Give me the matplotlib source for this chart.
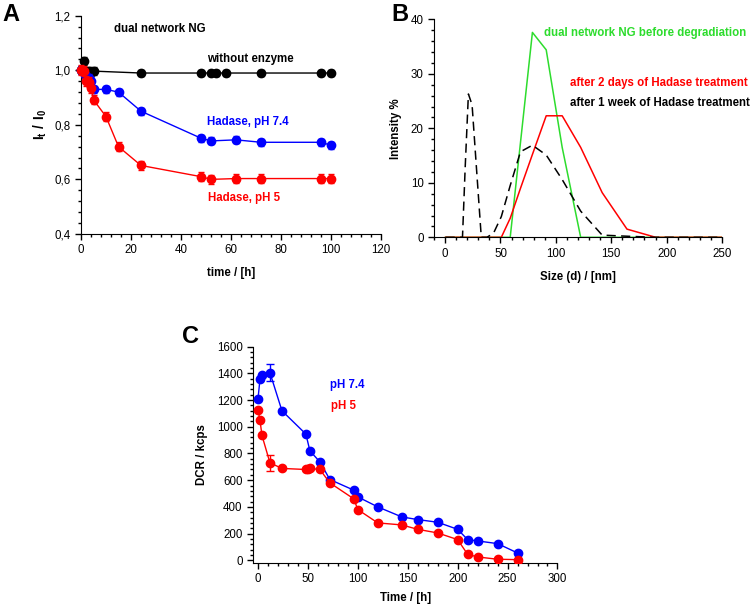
import matplotlib
matplotlib.use('Agg')
import matplotlib.pyplot as plt
from matplotlib.ticker import MultipleLocator, FuncFormatter

plt.rcParams['font.family'] = ['Liberation Sans', 'DejaVu Sans']
plt.rcParams['mathtext.fontset'] = 'custom'
plt.rcParams['mathtext.rm'] = 'Liberation Sans'
plt.rcParams['mathtext.bf'] = 'Liberation Sans:bold'

# panel A - relative intensity vs time
t_ctrl = [0, 1, 3, 4, 5, 24, 48, 52, 54, 58, 72, 96, 100]
i_ctrl = [1.0, 1.035, 0.997, 0.995, 0.997, 0.99, 0.99, 0.99, 0.99, 0.99, 0.99, 0.99, 0.99]
e_ctrl = [0.015, 0.015, 0.015, 0.015, 0.015, 0.012, 0.012, 0.012, 0.012, 0.012, 0.012, 0.012, 0.012]

t_74 = [0, 1, 2, 3, 4, 5, 10, 15, 24, 48, 52, 62, 72, 96, 100]
i_74 = [1.0, 0.99, 0.98, 0.97, 0.96, 0.93, 0.93, 0.92, 0.85, 0.751, 0.741, 0.745, 0.736, 0.736, 0.725]
e_74 = [0.015, 0.015, 0.015, 0.015, 0.015, 0.013, 0.013, 0.013, 0.013, 0.013, 0.013, 0.013, 0.013, 0.013, 0.013]

t_5 = [0, 1, 2, 3, 4, 5, 10, 15, 24, 48, 52, 62, 72, 96, 100]
i_5 = [1.0, 0.998, 0.961, 0.958, 0.935, 0.892, 0.83, 0.72, 0.651, 0.61, 0.60, 0.603, 0.603, 0.603, 0.603]
e_5 = [0.018, 0.018, 0.018, 0.018, 0.018, 0.017, 0.017, 0.017, 0.017, 0.017, 0.017, 0.017, 0.017, 0.017, 0.017]

# panel B - DLS size distributions
sizes = [0.4, 5.6, 10.1, 13.54, 15.69, 18.17, 21.04, 24.36, 28.21, 32.67, 37.84, 43.82,
         50.75, 58.77, 68.06, 78.82, 91.28, 105.7, 122.4, 141.8, 164.2, 190.1, 220.2, 255.0]
int_before = [0, 0, 0, 0, 0, 0, 0, 0, 0, 0, 0, 0,
              0, 0, 17.4, 37.6, 34.4, 16.5, 0, 0, 0, 0, 0, 0]
int_2days = [0, 0, 0, 0, 0, 0, 0, 0, 0, 0, 0, 0,
             0, 3.5, 9.0, 15.2, 22.3, 22.3, 16.5, 8.2, 1.5, 0, 0, 0]
int_1week = [0, 0, 0, 0, 0, 13.0, 26.3, 24.3, 13.0, 0, 0, 0.8,
             3.8, 9.5, 15.7, 16.9, 15.1, 10.6, 4.8, 0.4, 0.2, 0, 0, 0]

# panel C - derived count rate
t_dcr = [0, 2, 4, 12, 24, 48, 52, 62, 72, 96, 100, 120, 144, 160, 180, 200, 210, 220, 240, 260]
dcr_74 = [1207, 1355, 1385, 1405, 1120, 945, 820, 737, 605, 525, 475, 400, 325, 305, 285, 232,
          155, 145, 125, 55]
err_74 = [0, 0, 0, 65, 0, 0, 0, 0, 0, 0, 0, 0, 0, 0, 0, 0, 0, 0, 0, 0]
t_dcr5 = [0, 2, 4, 12, 24, 48, 50, 52, 62, 72, 96, 100, 120, 144, 160, 180, 200, 210, 220, 240, 260]
dcr_5 = [1125, 1050, 935, 730, 688, 680, 683, 688, 680, 580, 460, 380, 280, 265, 232, 205, 155,
         45, 25, 8, 5]
err_5 = [0, 0, 0, 60, 0, 0, 0, 0, 0, 0, 0, 0, 0, 0, 0, 0, 0, 0, 0, 0, 0]

BLUE = '#0000ff'
RED = '#ff0000'
GREEN = '#2ddc2d'
fs = 8.3

def style(ax):
    for s in ['top', 'right']:
        ax.spines[s].set_visible(False)
    ax.tick_params(which='major', direction='out', length=4, width=1, labelsize=fs)
    ax.tick_params(which='minor', direction='out', length=2.5, width=1)

fig = plt.figure(figsize=(7.5, 6.06), dpi=100)

# ---- A
axA = fig.add_axes([0.108, 0.614, 0.4, 0.36])
style(axA)
kw = dict(marker='o', markersize=6, lw=1, capsize=2.5, elinewidth=1, capthick=1, clip_on=False)
axA.errorbar(t_ctrl, i_ctrl, yerr=e_ctrl, color='black', zorder=3, **kw)
axA.errorbar(t_74, i_74, yerr=e_74, color=BLUE, zorder=4, **kw)
axA.errorbar(t_5, i_5, yerr=e_5, color=RED, zorder=5, **kw)
axA.set_xlim(0, 120)
axA.set_ylim(0.4, 1.2)
axA.xaxis.set_major_locator(MultipleLocator(20))
axA.xaxis.set_minor_locator(MultipleLocator(4))
axA.yaxis.set_major_locator(MultipleLocator(0.2))
axA.yaxis.set_minor_locator(MultipleLocator(0.04))
axA.yaxis.set_major_formatter(FuncFormatter(lambda v, p: f'{v:.1f}'.replace('.', ',')))
axA.set_xlabel('time / [h]', fontsize=fs, fontweight='bold', labelpad=8)
axA.set_ylabel(r'$\mathbf{I_t\ /\ I_0}$', fontsize=fs + 1.5, labelpad=4)
axA.text(13.3, 1.152, 'dual network NG', fontsize=fs, fontweight='bold', va='center')
axA.text(50.3, 1.042, 'without enzyme', fontsize=fs, fontweight='bold', va='center')
axA.text(50.5, 0.812, 'Hadase, pH 7.4', fontsize=fs, fontweight='bold', va='center', color=BLUE)
axA.text(51, 0.532, 'Hadase, pH 5', fontsize=fs, fontweight='bold', va='center', color=RED)

# ---- B
axB = fig.add_axes([0.5787, 0.6084, 0.384, 0.3597])
style(axB)
axB.plot(sizes, int_before, color=GREEN, lw=1.1, zorder=3)
axB.plot(sizes, int_2days, color=RED, lw=1.1, zorder=3)
axB.plot(sizes, int_1week, color='black', lw=1.1, dashes=(6, 3.5), zorder=4)
axB.set_xlim(-10, 250)
axB.set_ylim(0, 40)
axB.xaxis.set_major_locator(MultipleLocator(50))
axB.xaxis.set_minor_locator(MultipleLocator(10))
axB.yaxis.set_major_locator(MultipleLocator(10))
axB.yaxis.set_minor_locator(MultipleLocator(2))
axB.set_xlabel('Size (d) / [nm]', fontsize=fs, fontweight='bold', labelpad=8)
axB.set_ylabel('Intensity %', fontsize=fs, fontweight='bold', labelpad=6)
axB.text(88.9, 37.4, 'dual network NG before degradiation', fontsize=fs, fontweight='bold',
         va='center', color=GREEN)
axB.text(112.4, 28.3, 'after 2 days of Hadase treatment', fontsize=fs, fontweight='bold',
         va='center', color=RED)
axB.text(112.4, 24.6, 'after 1 week of Hadase treatment', fontsize=fs, fontweight='bold',
         va='center', color='black')

# ---- C
axC = fig.add_axes([0.3373, 0.071, 0.406, 0.357])
style(axC)
kwc = dict(marker='o', markersize=6, lw=1, capsize=3, elinewidth=1, capthick=1)
axC.errorbar(t_dcr, dcr_74, yerr=err_74, color=BLUE, zorder=3, **kwc)
axC.errorbar(t_dcr5, dcr_5, yerr=err_5, color=RED, zorder=4, **kwc)
axC.set_xlim(-5, 300)
axC.set_ylim(-20, 1600)
axC.xaxis.set_major_locator(MultipleLocator(50))
axC.xaxis.set_minor_locator(MultipleLocator(10))
axC.yaxis.set_major_locator(MultipleLocator(200))
axC.yaxis.set_minor_locator(MultipleLocator(40))
axC.set_xlabel('Time / [h]', fontsize=fs, fontweight='bold', labelpad=5)
axC.set_ylabel('DCR / kcps', fontsize=fs, fontweight='bold', labelpad=6)
axC.text(72, 1312, 'pH 7.4', fontsize=fs, fontweight='bold', va='center', color=BLUE)
axC.text(73.6, 1155, 'pH 5', fontsize=fs, fontweight='bold', va='center', color=RED)

# panel letters
fig.text(0.003, 0.995, 'A', fontsize=17, fontweight='bold', va='top')
fig.text(0.522, 0.995, 'B', fontsize=17, fontweight='bold', va='top')
fig.text(0.243, 0.463, 'C', fontsize=17, fontweight='bold', va='top')

fig.savefig('out.png', dpi=100)
